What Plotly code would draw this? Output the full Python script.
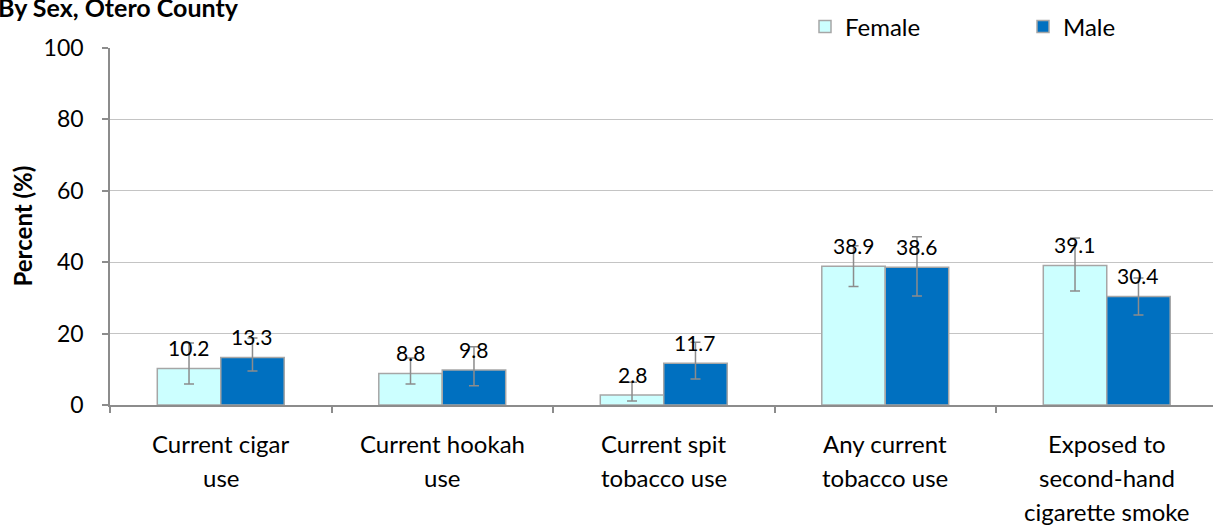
import plotly.graph_objects as go

# Tobacco indicators by sex, Otero County
category_lines = [
    ["Current cigar", "use"],
    ["Current hookah", "use"],
    ["Current spit", "tobacco use"],
    ["Any current", "tobacco use"],
    ["Exposed to", "second-hand", "cigarette smoke"],
]

female_pct = [10.2, 8.8, 2.8, 38.9, 39.1]
female_ci_low = [5.9, 5.9, 1.1, 33.2, 31.9]
female_ci_high = [17.4, 13.2, 6.4, 44.6, 46.8]

male_pct = [13.3, 9.8, 11.7, 38.6, 30.4]
male_ci_low = [9.5, 5.4, 7.3, 30.5, 25.2]
male_ci_high = [18.8, 16.3, 17.6, 47.1, 35.6]

y_ticks = [0, 20, 40, 60, 80, 100]

W, H = 1213, 527
ML, MR, MT, MB = 110, 0, 48, 122
plot_w = W - ML - MR
plot_h = H - MT - MB

FONT = "Lato"
GRAY = "#8c8c8c"
BAR_EDGE = "#a6a6a6"

x_idx = list(range(len(category_lines)))
bargap = 0.427
bar_w = (1 - bargap) / 2


def ci_bars(vals, lo, hi):
    return dict(
        type="data",
        array=[h - v for v, h in zip(vals, hi)],
        arrayminus=[v - l for v, l in zip(vals, lo)],
        color=GRAY,
        thickness=1.5,
        width=5,
    )


fig = go.Figure()
fig.add_trace(go.Bar(
    name="Female", x=x_idx, y=female_pct,
    marker=dict(color="#CCFFFF", line=dict(color=BAR_EDGE, width=1.5)),
    error_y=ci_bars(female_pct, female_ci_low, female_ci_high),
))
fig.add_trace(go.Bar(
    name="Male", x=x_idx, y=male_pct,
    marker=dict(color="#0070C0", line=dict(color=BAR_EDGE, width=1.5)),
    error_y=ci_bars(male_pct, male_ci_low, male_ci_high),
))

annotations = []
# value labels above each bar
for vals, off in ((female_pct, -bar_w / 2), (male_pct, bar_w / 2)):
    for i, v in enumerate(vals):
        annotations.append(dict(
            x=i + off, y=v, xref="x", yref="y", text=f"{v:.1f}",
            showarrow=False, yanchor="middle", yshift=21,
            font=dict(family=FONT, size=21, color="#000000"),
        ))

# category labels, one line at a time
line_step = 34
for i, lines in enumerate(category_lines):
    for k, line in enumerate(lines):
        annotations.append(dict(
            x=i, y=0, xref="x", yref="paper", text=line,
            showarrow=False, yanchor="middle",
            yshift=-(443 - (MT + plot_h)) - k * line_step,
            font=dict(family=FONT, size=24, color="#000000"),
        ))

# heading (runs off the top-left corner of the page)
annotations.append(dict(
    x=-(ML + 4) / plot_w, y=1 + (MT - 7) / plot_h, xref="paper", yref="paper",
    text="<b>By Sex, Otero County</b>", showarrow=False,
    xanchor="left", yanchor="middle",
    font=dict(family=FONT, size=25, color="#000000"),
))

# y-axis title
annotations.append(dict(
    x=-(ML - 22) / plot_w, y=0.5, xref="paper", yref="paper",
    text="<b>Percent (%)</b>", showarrow=False, textangle=-90,
    xanchor="center", yanchor="middle",
    font=dict(family=FONT, size=24, color="#000000"),
))

fig.update_layout(
    width=W, height=H,
    margin=dict(l=ML, r=MR, t=MT, b=MB, autoexpand=False),
    paper_bgcolor="white", plot_bgcolor="white",
    barmode="group", bargap=bargap, bargroupgap=0,
    showlegend=True,
    legend=dict(
        orientation="h", x=(805 - ML) / plot_w, xanchor="left",
        y=1 + (MT - 27) / plot_h, yanchor="middle",
        entrywidth=173, entrywidthmode="pixels",
        font=dict(family=FONT, size=24, color="#000000"),
        bgcolor="rgba(0,0,0,0)", traceorder="normal",
    ),
    annotations=annotations,
    font=dict(family=FONT, color="#000000"),
)

fig.update_xaxes(
    range=[-0.5, -0.5 + plot_w / 221.5],
    tickmode="array", tickvals=[i + 0.5 for i in x_idx[:-1]] + [-0.5],
    ticktext=[""] * len(x_idx),
    ticks="outside", ticklen=6, tickcolor=GRAY, tickwidth=1.5,
    showline=True, linecolor=GRAY, linewidth=1.5,
    showgrid=False, zeroline=False, fixedrange=True,
)
fig.update_yaxes(
    range=[0, 100], tickmode="array", tickvals=y_ticks,
    ticks="outside", ticklen=6, tickcolor=GRAY, tickwidth=1.5,
    ticklabelstandoff=14,
    showline=True, linecolor=GRAY, linewidth=1.5,
    showgrid=True, gridcolor="#c4c4c4", gridwidth=1.2,
    zeroline=False,
    tickfont=dict(family=FONT, size=23, color="#000000"),
)

fig.write_html("out.html")
